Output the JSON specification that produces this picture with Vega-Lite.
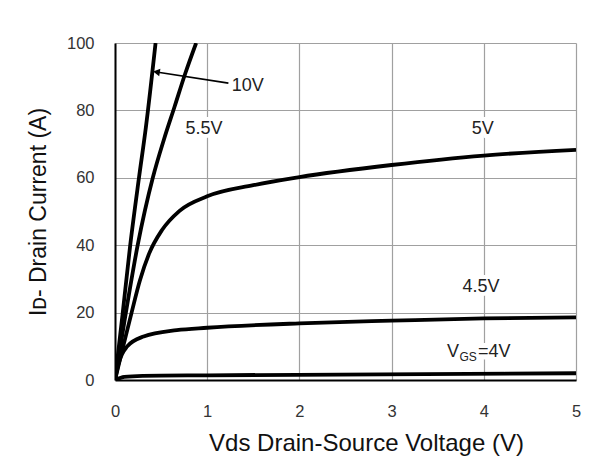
{
  "$schema": "https://vega.github.io/schema/vega-lite/v6.json",
  "width": 461,
  "height": 337,
  "autosize": {"type": "none"},
  "padding": {"left": 115, "top": 43, "right": 37, "bottom": 84},
  "background": "white",
  "config": {
    "view": {"stroke": null},
    "font": "Liberation Sans",
    "axis": {
      "labelFont": "Liberation Sans",
      "titleFont": "Liberation Sans",
      "labelColor": "#333333",
      "titleColor": "#111111",
      "labelFontSize": 16.5,
      "titleFontSize": 23,
      "titleFontWeight": "normal",
      "gridColor": "#a0a0a0",
      "gridWidth": 1.2,
      "gridOpacity": 1,
      "domainColor": "#000000",
      "domainWidth": 2,
      "ticks": false,
      "format": "d"
    }
  },
  "datasets": {
    "curves": [
      {"vgs": "10V", "vds": 0, "id": 0},
      {"vgs": "10V", "vds": 0.08, "id": 19},
      {"vgs": "10V", "vds": 0.165, "id": 40},
      {"vgs": "10V", "vds": 0.26, "id": 60},
      {"vgs": "10V", "vds": 0.335, "id": 75},
      {"vgs": "10V", "vds": 0.44, "id": 100},
      {"vgs": "5.5V", "vds": 0, "id": 0},
      {"vgs": "5.5V", "vds": 0.1, "id": 17},
      {"vgs": "5.5V", "vds": 0.246, "id": 40},
      {"vgs": "5.5V", "vds": 0.41, "id": 60},
      {"vgs": "5.5V", "vds": 0.53, "id": 71.3},
      {"vgs": "5.5V", "vds": 0.645, "id": 81},
      {"vgs": "5.5V", "vds": 0.76, "id": 90.8},
      {"vgs": "5.5V", "vds": 0.88, "id": 100},
      {"vgs": "5V", "vds": 0, "id": 0},
      {"vgs": "5V", "vds": 0.08, "id": 9},
      {"vgs": "5V", "vds": 0.18, "id": 20},
      {"vgs": "5V", "vds": 0.27, "id": 29.5},
      {"vgs": "5V", "vds": 0.37, "id": 37.5},
      {"vgs": "5V", "vds": 0.51, "id": 44.5},
      {"vgs": "5V", "vds": 0.7, "id": 50.2},
      {"vgs": "5V", "vds": 1, "id": 54.5},
      {"vgs": "5V", "vds": 1.5, "id": 57.8},
      {"vgs": "5V", "vds": 2, "id": 60.2},
      {"vgs": "5V", "vds": 3, "id": 63.8},
      {"vgs": "5V", "vds": 4, "id": 66.6},
      {"vgs": "5V", "vds": 5, "id": 68.3},
      {"vgs": "4.5V", "vds": 0, "id": 0},
      {"vgs": "4.5V", "vds": 0.04, "id": 5},
      {"vgs": "4.5V", "vds": 0.13, "id": 9.9},
      {"vgs": "4.5V", "vds": 0.31, "id": 12.9},
      {"vgs": "4.5V", "vds": 0.67, "id": 14.8},
      {"vgs": "4.5V", "vds": 1, "id": 15.5},
      {"vgs": "4.5V", "vds": 2, "id": 16.8},
      {"vgs": "4.5V", "vds": 3, "id": 17.6},
      {"vgs": "4.5V", "vds": 4, "id": 18.3},
      {"vgs": "4.5V", "vds": 5, "id": 18.6},
      {"vgs": "4V", "vds": 0, "id": 0},
      {"vgs": "4V", "vds": 0.1, "id": 0.9},
      {"vgs": "4V", "vds": 0.3, "id": 1.2},
      {"vgs": "4V", "vds": 1, "id": 1.4},
      {"vgs": "4V", "vds": 5, "id": 2}
    ],
    "labels": [
      {"text": "10V", "x": 1.44, "y": 87.2},
      {"text": "5.5V", "x": 0.965, "y": 74.5},
      {"text": "5V", "x": 3.99, "y": 74.5},
      {"text": "4.5V", "x": 3.97, "y": 27.7}
    ],
    "vgslabel": [{"x": 3.6, "y": 8.4}],
    "arrow": [{"x": 1.23, "y": 88.1, "x2": 0.45, "y2": 91.4}]
  },
  "layer": [
    {
      "data": {"name": "curves"},
      "mark": {"type": "line", "color": "#000000", "strokeWidth": 3.8, "interpolate": "monotone", "clip": true},
      "encoding": {
        "x": {"field": "vds", "type": "quantitative", "scale": {"domain": [0, 5], "nice": false},
          "axis": {"title": "Vds Drain-Source Voltage (V)", "values": [0, 1, 2, 3, 4, 5], "labelPadding": 23, "titlePadding": 12, "labelFlush": false, "titleX": 251, "titleFontSize": 24}},
        "y": {"field": "id", "type": "quantitative", "scale": {"domain": [0, 100], "nice": false},
          "axis": {"title": "Iᴅ- Drain Current (A)", "values": [0, 20, 40, 60, 80, 100], "labelPadding": 21, "titlePadding": 16, "labelFlush": false}},
        "detail": {"field": "vgs"}
      }
    },
    {
      "data": {"name": "labels"},
      "mark": {"type": "text", "fontSize": 18, "color": "white", "baseline": "middle", "align": "center", "stroke": "white", "strokeWidth": 8},
      "encoding": {
        "x": {"field": "x", "type": "quantitative"},
        "y": {"field": "y", "type": "quantitative"},
        "text": {"field": "text"}
      }
    },
    {
      "data": {"name": "labels"},
      "mark": {"type": "text", "fontSize": 18, "color": "#222222", "baseline": "middle", "align": "center"},
      "encoding": {
        "x": {"field": "x", "type": "quantitative"},
        "y": {"field": "y", "type": "quantitative"},
        "text": {"field": "text"}
      }
    },
    {
      "data": {"name": "vgslabel"},
      "mark": {"type": "text", "fontSize": 18, "color": "white", "stroke": "white", "strokeWidth": 10, "baseline": "middle", "align": "left", "text": "=4V", "dx": 31},
      "encoding": {"x": {"field": "x", "type": "quantitative"}, "y": {"field": "y", "type": "quantitative"}}
    },
    {
      "data": {"name": "vgslabel"},
      "mark": {"type": "text", "fontSize": 18, "color": "#222222", "baseline": "middle", "align": "left", "text": "V"},
      "encoding": {"x": {"field": "x", "type": "quantitative"}, "y": {"field": "y", "type": "quantitative"}}
    },
    {
      "data": {"name": "vgslabel"},
      "mark": {"type": "text", "fontSize": 12, "color": "#222222", "baseline": "middle", "align": "left", "text": "GS", "dx": 12.5, "dy": 5},
      "encoding": {"x": {"field": "x", "type": "quantitative"}, "y": {"field": "y", "type": "quantitative"}}
    },
    {
      "data": {"name": "vgslabel"},
      "mark": {"type": "text", "fontSize": 18, "color": "#222222", "baseline": "middle", "align": "left", "text": "=4V", "dx": 31},
      "encoding": {"x": {"field": "x", "type": "quantitative"}, "y": {"field": "y", "type": "quantitative"}}
    },
    {
      "data": {"name": "arrow"},
      "mark": {"type": "rule", "color": "#000000", "strokeWidth": 1.6},
      "encoding": {
        "x": {"field": "x", "type": "quantitative"},
        "y": {"field": "y", "type": "quantitative"},
        "x2": {"field": "x2"},
        "y2": {"field": "y2"}
      }
    },
    {
      "data": {"name": "arrow"},
      "mark": {"type": "point", "shape": "triangle-left", "filled": true, "color": "#000000", "opacity": 1, "size": 60, "angle": 9},
      "encoding": {
        "x": {"field": "x2", "type": "quantitative"},
        "y": {"field": "y2", "type": "quantitative"}
      }
    }
  ]
}
